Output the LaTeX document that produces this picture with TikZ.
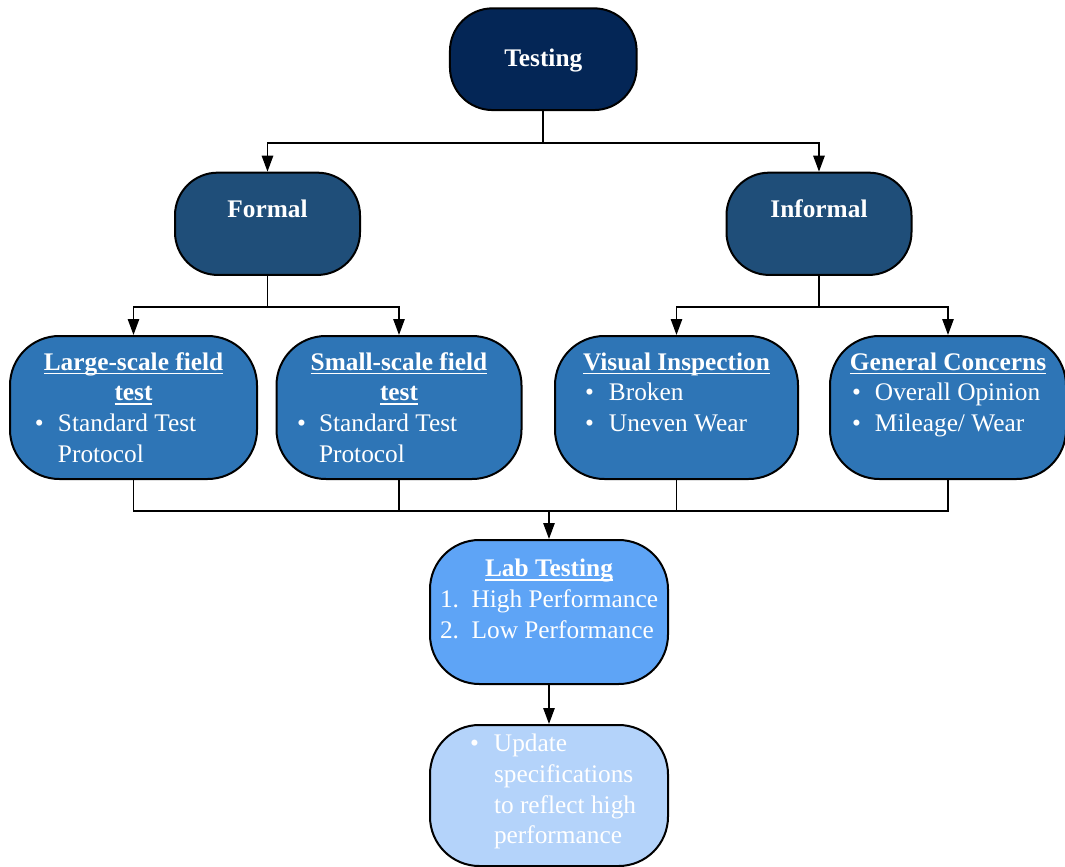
\documentclass[tikz,border=0pt]{standalone}
\usepackage{fontspec}
\setmainfont{Liberation Serif}
\usetikzlibrary{arrows.meta}

\definecolor{navy}{HTML}{042656}
\definecolor{midblue}{HTML}{1F4E79}
\definecolor{fieldblue}{HTML}{2E75B6}
\definecolor{labblue}{HTML}{5EA4F6}
\definecolor{paleblue}{HTML}{B4D3FA}

\newlength\itmL
\newlength\itmW
\newcommand\itm[2]{\par{\raggedright\leftskip=\itmL\hangindent=\itmW\hangafter=1\noindent\makebox[\itmW][l]{#1}#2\par}}
\newcommand\inbox[3]{\parbox[c][#1][t]{#2}{#3}}
\newcommand\ttl[2]{{\centering\bfseries\rule{0pt}{#1}#2\par}}
\newcommand\ulin[1]{\leavevmode\setbox0\hbox{#1}\rlap{\rule[-3pt]{\wd0}{1.1pt}}\box0}

\begin{document}
\begin{tikzpicture}[
x=0.75pt,
y=-0.75pt,
every node/.style={
draw=black,
line width=1.5pt,
inner sep=0pt,
text=white,
font=\fontsize{19pt}{23pt}\selectfont
},
arr/.style={-{Triangle[length=12pt,width=8.5pt]}},
conn/.style={line width=1.3pt}
]

\useasboundingbox (0,0) rectangle (1065,867);

\node[fill=navy, rounded corners=32pt] (testing) at (543.3,59.2)
{\inbox{76.3pt}{140pt}{\ttl{43.8pt}{Testing}}};

\node[fill=midblue, rounded corners=32pt] (formal) at (267.5,223.8)
{\inbox{76.7pt}{138.75pt}{\ttl{33.5pt}{Formal}}};

\node[fill=midblue, rounded corners=32pt] (informal) at (819,223.8)
{\inbox{76.7pt}{138.75pt}{\ttl{33.5pt}{Informal}}};

\node[fill=fieldblue, rounded corners=37pt] (large) at (133.5,407.5)
{\inbox{107.25pt}{185.25pt}{\setlength\itmL{18.75pt}\setlength\itmW{17.25pt}%
\ttl{25.5pt}{\ulin{Large-scale field}\\\ulin{test}}%
\itm{\textbullet}{Standard Test\newline Protocol}}};

\node[fill=fieldblue, rounded corners=37pt] (small) at (399,407.5)
{\inbox{107.25pt}{183.75pt}{\setlength\itmL{15.4pt}\setlength\itmW{16.5pt}%
\ttl{25.5pt}{\ulin{Small-scale field}\\\ulin{test}}%
\itm{\textbullet}{Standard Test\newline Protocol}}};

\node[fill=fieldblue, rounded corners=37pt] (visual) at (676.5,407.5)
{\inbox{107.25pt}{182.25pt}{\setlength\itmL{22.5pt}\setlength\itmW{18pt}%
\ttl{25.5pt}{\ulin{Visual Inspection}}%
\itm{\textbullet}{Broken}%
\itm{\textbullet}{Uneven Wear}}};

\node[fill=fieldblue, rounded corners=37pt] (general) at (948,407.5)
{\inbox{107.25pt}{177pt}{\setlength\itmL{16.5pt}\setlength\itmW{17.25pt}%
\ttl{25.5pt}{\ulin{General Concerns}}%
\itm{\textbullet}{Overall Opinion}%
\itm{\textbullet}{Mileage/ Wear}}};

\node[fill=labblue, rounded corners=37pt] (lab) at (549,612)
{\inbox{108pt}{178.5pt}{\setlength\itmL{7.5pt}\setlength\itmW{23.75pt}%
\ttl{27.5pt}{\ulin{Lab Testing}}%
\itm{1.}{High Performance}%
\itm{2.}{Low Performance}}};

\node[fill=paleblue, rounded corners=37pt] (update) at (549,795.5)
{\inbox{105.75pt}{178.5pt}{\setlength\itmL{30pt}\setlength\itmW{18pt}%
\itm{\rule{0pt}{20pt}\textbullet}{Update\newline specifications\newline to reflect high\newline performance}}};

\draw[conn,arr] (testing.south) -- ++(0,31.7) -| (formal.north);
\draw[conn,arr] (testing.south) -- ++(0,31.7) -| (informal.north);

\draw[conn,arr] (formal.south) -- ++(0,31) -| (large.north);
\draw[conn,arr] (formal.south) -- ++(0,31) -| (small.north);
\draw[conn,arr] (informal.south) -- ++(0,31) -| (visual.north);
\draw[conn,arr] (informal.south) -- ++(0,31) -| (general.north);

\draw[conn] (large.south) -- ++(0,31) -| (general.south);
\draw[conn] (small.south) -- ++(0,31);
\draw[conn] (visual.south) -- ++(0,31);
\coordinate (merge) at (549,510.25);
\draw[conn,arr] (merge) -- (lab.north);

\draw[conn,arr] (lab.south) -- (update.north);

\end{tikzpicture}
\end{document}
